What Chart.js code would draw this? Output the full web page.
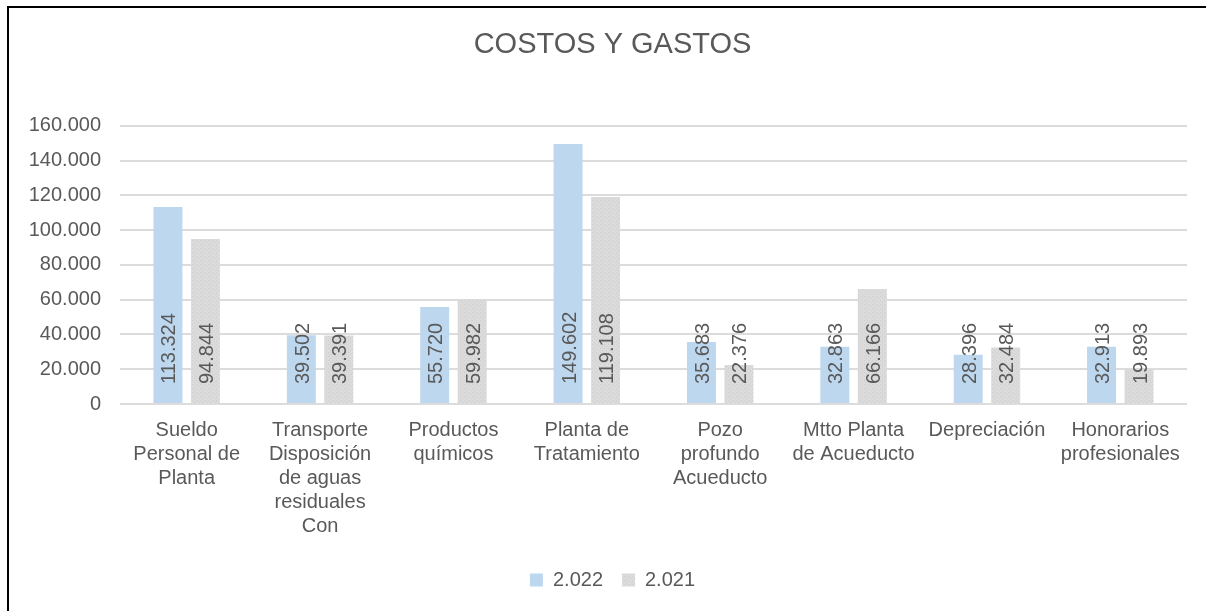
<!DOCTYPE html>
<html>
<head>
  <meta charset="utf-8">
  <title>Costos y Gastos</title>
  <script src="https://cdn.jsdelivr.net/npm/chart.js"></script>
  <style>
    body { margin: 0; background: #fff; }
    #frame { position: absolute; left: 7px; top: 6px; width: 1220px; height: 640px;
             border-left: 2px solid #000; border-top: 2px solid #000; pointer-events: none; }
  </style>
</head>
<body>
  <canvas id="chart" width="1206" height="611"></canvas>
  <div id="frame"></div>
  <script>
    const categories = [
      ['Sueldo', 'Personal de', 'Planta'],
      ['Transporte', 'Disposición', 'de aguas', 'residuales', 'Con'],
      ['Productos', 'químicos'],
      ['Planta de', 'Tratamiento'],
      ['Pozo', 'profundo', 'Acueducto'],
      ['Mtto Planta', 'de Acueducto'],
      ['Depreciación'],
      ['Honorarios', 'profesionales']
    ];
    const values2022 = [113324, 39502, 55720, 149602, 35683, 32863, 28396, 32913];
    const values2021 = [94844, 39391, 59982, 119108, 22376, 66166, 32484, 19893];
    const yTicks = [0, 20000, 40000, 60000, 80000, 100000, 120000, 140000, 160000];

    const textColor = '#595959';
    const font = 'Liberation Sans, Arial, sans-serif';

    function fmt(v) {
      return String(v).replace(/\B(?=(\d{3})+(?!\d))/g, '.');
    }

    // light grey with a faint stipple, like the original fill
    function greyPattern() {
      const c = document.createElement('canvas');
      c.width = 4; c.height = 4;
      const g = c.getContext('2d');
      g.fillStyle = '#dbdbdb';
      g.fillRect(0, 0, 4, 4);
      g.fillStyle = '#cdcdcd';
      g.fillRect(0, 0, 1, 1);
      g.fillRect(2, 2, 1, 1);
      return g.createPattern(c, 'repeat');
    }

    // vertical value labels sitting at the base of each bar
    const baseLabels = {
      id: 'baseLabels',
      afterDatasetsDraw(chart) {
        const ctx = chart.ctx;
        chart.data.datasets.forEach((ds, i) => {
          chart.getDatasetMeta(i).data.forEach((bar, j) => {
            ctx.save();
            ctx.translate(bar.x + 2, bar.base - 19);
            ctx.rotate(-Math.PI / 2);
            ctx.font = '20px ' + font;
            ctx.fillStyle = textColor;
            ctx.textAlign = 'left';
            ctx.textBaseline = 'middle';
            ctx.fillText(fmt(ds.data[j]), 0, 0);
            ctx.restore();
          });
        });
      }
    };

    // let the y tick labels use the space left of the padding (no clipping)
    const widenY = {
      id: 'widenY',
      afterLayout(chart) {
        const y = chart.scales.y;
        y.left = 0;
        y.width = y.right;
      }
    };

    new Chart(document.getElementById('chart'), {
      type: 'bar',
      data: {
        labels: categories,
        datasets: [{
          label: '2.022',
          data: values2022,
          backgroundColor: '#bdd7ee',
          categoryPercentage: 0.562,
          barPercentage: 0.773
        }, {
          label: '2.021',
          data: values2021,
          backgroundColor: greyPattern(),
          categoryPercentage: 0.562,
          barPercentage: 0.773
        }]
      },
      options: {
        responsive: false,
        animation: false,
        layout: { padding: { left: 38, right: 19, top: 0, bottom: 11 } },
        plugins: {
          title: {
            display: true,
            text: 'COSTOS Y GASTOS',
            color: textColor,
            font: { family: font, size: 29, weight: 'normal', lineHeight: 1.2 },
            padding: { top: 28, bottom: 63 }
          },
          legend: {
            position: 'bottom',
            labels: {
              color: textColor,
              font: { family: font, size: 20 },
              boxWidth: 13,
              boxHeight: 13,
              padding: 19
            }
          },
          tooltip: { enabled: false }
        },
        scales: {
          x: {
            grid: { display: false },
            border: { display: false },
            ticks: {
              color: textColor,
              font: { family: font, size: 20, lineHeight: 1.2 },
              padding: 6,
              maxRotation: 0,
              autoSkip: false
            },
            afterFit(s) {
              s.height = 611 - 11 - s.chart.legend.height - 404;
            }
          },
          y: {
            min: 0,
            max: 160000,
            afterBuildTicks(s) {
              s.ticks = yTicks.map(v => ({ value: v }));
            },
            grid: { color: '#dcdcdc', lineWidth: 2, drawTicks: false },
            border: { display: false },
            ticks: {
              color: textColor,
              font: { family: font, size: 20 },
              padding: 19,
              callback: v => fmt(v)
            },
            afterFit(s) {
              s.width = 120 - 38;
            }
          }
        }
      },
      plugins: [baseLabels, widenY]
    });
  </script>
</body>
</html>
